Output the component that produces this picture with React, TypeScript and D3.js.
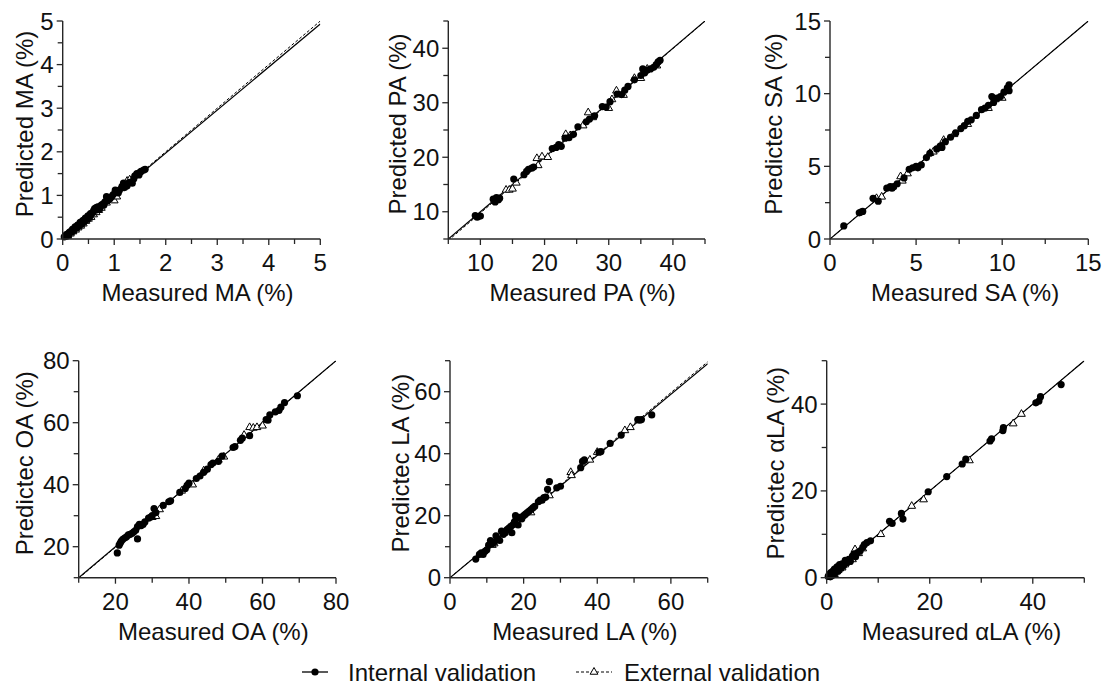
import React from "react";
import * as d3 from "d3";

type Pt = [number, number];

// ---------- data ----------
const maInternal: Pt[] = [
  [0.03, 0.05], [0.05, 0.06], [0.07, 0.1], [0.08, 0.07], [0.1, 0.12], [0.12, 0.1], [0.13, 0.15], [0.15, 0.17],
  [0.18, 0.16], [0.19, 0.22], [0.2, 0.22], [0.22, 0.2], [0.24, 0.28], [0.25, 0.27], [0.28, 0.26], [0.29, 0.32],
  [0.3, 0.32], [0.33, 0.31], [0.34, 0.38], [0.35, 0.37], [0.38, 0.35], [0.39, 0.42], [0.4, 0.42], [0.42, 0.4],
  [0.44, 0.48], [0.45, 0.47], [0.48, 0.45], [0.49, 0.53], [0.5, 0.52], [0.52, 0.5], [0.54, 0.58], [0.55, 0.57],
  [0.58, 0.6], [0.6, 0.65], [0.62, 0.7], [0.64, 0.66], [0.65, 0.72], [0.68, 0.74], [0.7, 0.68], [0.72, 0.7],
  [0.73, 0.75], [0.75, 0.78], [0.78, 0.8], [0.8, 0.78], [0.82, 0.85], [0.85, 0.97], [0.86, 0.88], [0.88, 0.9],
  [0.92, 0.93], [0.95, 0.97], [0.98, 1.02], [1.02, 1.12], [1.05, 1.08], [1.08, 1.06], [1.1, 1.12], [1.15, 1.2],
  [1.18, 1.28], [1.2, 1.18], [1.22, 1.25], [1.25, 1.22], [1.3, 1.3], [1.35, 1.28], [1.38, 1.38], [1.4, 1.45],
  [1.44, 1.5], [1.48, 1.47], [1.5, 1.53], [1.52, 1.55], [1.57, 1.58], [1.6, 1.6],
];
const maExternal: Pt[] = [
  [0.1, 0.07], [0.15, 0.12], [0.2, 0.17], [0.25, 0.21], [0.3, 0.26], [0.35, 0.3], [0.4, 0.35], [0.45, 0.41],
  [0.5, 0.46], [0.55, 0.5], [0.6, 0.56], [0.65, 0.61], [0.7, 0.66], [0.75, 0.71], [0.85, 0.83], [0.95, 0.9],
  [1.0, 0.88], [1.05, 0.97], [1.12, 1.16], [1.25, 1.33], [1.3, 1.36],
];
const paInternal: Pt[] = [
  [9.2, 9.3], [9.5, 9.0], [10, 9.2], [12, 12.3], [12.3, 11.8], [12.5, 12.6], [12.8, 12.2], [13, 12.5],
  [15.2, 16], [16.8, 16.8], [17.2, 17.4], [17.5, 17.8], [18, 18], [18.3, 18.2], [21.2, 21.6], [21.8, 21.8],
  [22.2, 22.3], [22.6, 22.0], [23.2, 23.5], [23.8, 23.6], [24.5, 24.2], [25.2, 25.6], [26.5, 26.5], [27, 27],
  [27.8, 27.6], [29, 29.3], [29.6, 29.2], [30.2, 30.2], [31.3, 31.6], [32, 31.5], [32.5, 32.3], [33, 33],
  [34, 34.2], [35, 35], [35.3, 36.2], [35.6, 35.5], [36, 36], [36.5, 36.2], [37, 36.5], [37.4, 37], [37.7, 37.5], [38, 37.8],
];
const paExternal: Pt[] = [
  [14, 14], [14.5, 14], [15, 14.2], [15.6, 15.3], [18.8, 19.8], [19, 18.5], [19.6, 20.1], [20.5, 20.0],
  [23.3, 24.2], [24, 24], [26, 25.8], [26.8, 28.2], [27.5, 27.3], [30, 29], [30.5, 30.6], [31.2, 32.2],
  [32.3, 31.4], [34, 34.5], [35, 34.5], [36, 36.2], [37.5, 36.8],
];
const saInternal: Pt[] = [
  [0.8, 0.9], [1.7, 1.8], [1.8, 1.85], [1.9, 1.9], [2.5, 2.8], [2.8, 2.6], [3.3, 3.5], [3.5, 3.6], [3.6, 3.5],
  [3.7, 3.6], [3.9, 3.8], [4.3, 4.2], [4.6, 4.8], [4.8, 4.9], [5, 5], [5.1, 4.9], [5.3, 5.1], [5.6, 5.6],
  [5.8, 5.9], [6.2, 6.2], [6.4, 6.4], [6.5, 6.3], [6.7, 6.7], [7, 7], [7.3, 7.3], [7.6, 7.6], [7.8, 7.8],
  [8, 8.1], [8.2, 8.2], [8.5, 8.5], [8.8, 8.9], [9, 9], [9.2, 9.2], [9.4, 9.8], [9.5, 9.4], [9.7, 9.7],
  [9.9, 9.8], [10.1, 10.1], [10.3, 10.4], [10.4, 10.6], [10.4, 10.2],
];
const saExternal: Pt[] = [
  [2.7, 2.8], [3.0, 2.9], [4.1, 4.3], [4.2, 4.0], [4.5, 4.5], [5.8, 5.9], [6.0, 6.0], [6.6, 6.8],
  [7.2, 7.2], [8.0, 7.9], [9.2, 9.0], [9.6, 9.6], [10.0, 9.7],
];
const oaInternal: Pt[] = [
  [20.5, 18], [21, 20.5], [21.3, 21.2], [21.6, 21.8], [22, 22.4], [22.5, 22.8], [23, 23.2], [23.5, 23.8],
  [24, 24], [24.5, 24.3], [25, 24.8], [25.5, 25.3], [26, 22.5], [26, 26.5], [26.5, 27.2], [27, 26.8],
  [27.5, 27.2], [28, 28], [29, 29.2], [29.5, 29.5], [30, 30], [30.5, 32.3], [31, 31], [33, 33.3], [34.5, 34.5],
  [35, 34.8], [37.5, 37.5], [39, 38.8], [39.5, 39.8], [40, 40.5], [42, 42], [43, 42.8], [44, 44], [45, 45],
  [46, 46.5], [46.5, 47], [48, 47.5], [49, 49.2], [52, 52], [52.5, 52.3], [54, 54.3], [54.5, 55], [56.5, 55.8],
  [61, 61], [61.5, 60.8], [62, 62.5], [63.5, 63.5], [64.5, 64], [65, 65], [66, 66.5], [69.5, 68.7],
];
const oaExternal: Pt[] = [
  [30, 29.5], [31, 29.8], [32, 32], [38, 38], [41, 40], [44, 44.5], [48, 48], [49.5, 49], [55, 56],
  [56.5, 58.5], [57.5, 58.3], [58.5, 58.5], [60, 59],
];
const laInternal: Pt[] = [
  [7, 6], [8, 7.5], [8.5, 8], [9, 7.5], [9.5, 8.5], [10, 9], [10.5, 10.5], [11, 12], [11.5, 11], [12, 11.5],
  [12.5, 13.5], [13, 12.5], [13.5, 12], [14, 15], [14.5, 14], [15, 14.5], [15.5, 15.5], [16, 16], [16.5, 16.5],
  [16.8, 14.5], [17, 17], [17.5, 18], [17.8, 20], [18, 19], [18.5, 17], [19, 19.5], [19.5, 19], [20, 20],
  [20.5, 20.5], [21, 21], [21.5, 21.5], [22, 22], [22.5, 22.5], [23, 23], [24, 24.5], [24.5, 25], [25, 25],
  [25.5, 25.8], [26, 26], [26.5, 28.5], [27, 31], [29, 29], [30, 29.5], [35.5, 35.5], [36, 37.5], [36.5, 38],
  [40.5, 40.5], [41, 40.7], [43.5, 43.3], [46.5, 46], [51, 51], [51.5, 50.8], [52, 51], [54.8, 52.5],
];
const laExternal: Pt[] = [
  [11.5, 10.5], [12, 11], [13, 12.5], [18, 18.5], [22, 21], [27, 26.5], [32.8, 34], [33, 33], [38, 38],
  [40, 40.5], [47.5, 47.5], [49, 48.5],
];
const alaInternal: Pt[] = [
  [0.3, 0.3], [0.5, 0.8], [0.7, 0.2], [0.8, 1.2], [1.0, 0.5], [1.2, 1.5], [1.3, 0.8], [1.5, 2], [1.7, 1.2],
  [2, 2.5], [2.2, 1.5], [2.5, 3], [2.8, 2.2], [3, 3.2], [3.3, 2.8], [3.6, 4], [4, 3.5], [4.3, 4.2], [4.6, 3.8],
  [5, 5], [5.3, 5.5], [5.6, 4.8], [6, 5.8], [6.5, 6.2], [7, 7], [7.3, 7.6], [7.8, 8.1], [8.5, 8.5],
  [12.2, 13], [12.7, 12.5], [14.5, 14.8], [14.8, 13.5], [19.7, 19.8], [23.3, 23.3], [26.3, 26.2], [27, 27.3],
  [31.7, 31.5], [32, 32], [34.2, 33.9], [34.3, 34.6], [40.6, 40.3], [41.2, 40.7], [41.5, 41.7], [45.5, 44.5],
];
const alaExternal: Pt[] = [
  [0.8, 0.5], [1.5, 0.8], [2.2, 1.7], [3, 2.3], [3.5, 3], [4.2, 3.6], [5, 4.2], [5.5, 6.5], [6.2, 5.6],
  [7, 6.7], [10.5, 10], [16.5, 16.5], [18.8, 18], [27.7, 27], [36.2, 35.5], [37.8, 37.7],
];

// fitted lines: [slope, intercept]
const internalFits: Pt[] = [[0.986, 0.0], [1.0, 0.0], [1.0, 0.0], [1.0, 0.0], [0.986, 0.0], [1.0, 0.0]];
const externalFits: Pt[] = [[1.0, 0.0], [1.006, -0.3], [1.0, 0.0], [1.002, -0.2], [0.995, 0.0], [1.0, 0.0]];

const xTitles = ["Measured MA (%)", "Measured PA (%)", "Measured SA (%)", "Measured OA (%)", "Measured LA (%)", "Measured \u03b1LA (%)"];
const yTitles = ["Predicted MA (%)", "Predicted PA (%)", "Predictec SA (%)", "Predictec OA (%)", "Predictec LA (%)", "Predictec \u03b1LA (%)"];
const domains: Pt[] = [[0, 5], [5, 45], [0, 15], [10, 80], [0, 70], [0, 50]];
const majorTicks: number[][] = [[0, 1, 2, 3, 4, 5], [10, 20, 30, 40], [0, 5, 10, 15], [20, 40, 60, 80], [0, 20, 40, 60], [0, 20, 40]];
const minorSteps = [0.5, 5, 2.5, 10, 10, 10];
const legendLabels = ["Internal validation", "External validation"];

// ---------- layout ----------
const FONT = "'Liberation Sans', Arial, Helvetica, sans-serif";
const layouts = [
  { left: 62.7, top: 21, w: 257.6, h: 218, yTitleOff: 30 },
  { left: 448.3, top: 21, w: 256.7, h: 218, yTitleOff: 42 },
  { left: 830, top: 21, w: 258.3, h: 218, yTitleOff: 48 },
  { left: 78.7, top: 360.7, w: 257.3, h: 217, yTitleOff: 46 },
  { left: 450, top: 360.7, w: 257.7, h: 217, yTitleOff: 41 },
  { left: 826.7, top: 360.7, w: 257.6, h: 217, yTitleOff: 43 },
];
const internalSets = [maInternal, paInternal, saInternal, oaInternal, laInternal, alaInternal];
const externalSets = [maExternal, paExternal, saExternal, oaExternal, laExternal, alaExternal];

const AXIS = "#262626";
const tri = d3.symbol().type(d3.symbolTriangle).size(26)() as string;

function Panel({ i }: { i: number }) {
  const L = layouts[i];
  const dom = domains[i];
  const x = d3.scaleLinear().domain(dom).range([L.left, L.left + L.w]);
  const y = d3.scaleLinear().domain(dom).range([L.top + L.h, L.top]);
  const step = minorSteps[i];
  const allTicks = d3.range(dom[0], dom[1] + step / 2, step);
  const majors = majorTicks[i];
  const isMajor = (v: number) => majors.some((m) => Math.abs(m - v) < 1e-9);
  const bottom = L.top + L.h;
  const fitLine = (f: Pt) =>
    d3.line<number>().x((v) => x(v)).y((v) => y(f[0] * v + f[1]))([dom[0], dom[1]]) as string;
  const clipId = `clip${i}`;
  return (
    <g>
      <defs>
        <clipPath id={clipId}>
          <rect x={L.left} y={L.top} width={L.w} height={L.h} />
        </clipPath>
      </defs>
      <g clipPath={`url(#${clipId})`}>
        <path d={fitLine(externalFits[i])} fill="none" stroke="#000" strokeWidth={1} strokeDasharray="3,2" />
        <path d={fitLine(internalFits[i])} fill="none" stroke="#000" strokeWidth={1.2} />
      </g>
      {externalSets[i].map((d, k) => (
        <path key={`e${k}`} d={tri} transform={`translate(${x(d[0])},${y(d[1])})`} fill="#fff" stroke="#000" strokeWidth={1} />
      ))}
      {internalSets[i].map((d, k) => (
        <circle key={`i${k}`} cx={x(d[0])} cy={y(d[1])} r={3.6} fill="#000" />
      ))}
      {/* axes */}
      <line x1={L.left} x2={L.left + L.w} y1={bottom} y2={bottom} stroke={AXIS} strokeWidth={1.4} />
      <line x1={L.left} x2={L.left} y1={L.top} y2={bottom} stroke={AXIS} strokeWidth={1.4} />
      {allTicks.map((v) => (
        <g key={`xt${v}`}>
          <line x1={x(v)} x2={x(v)} y1={bottom} y2={bottom + (isMajor(v) ? 6 : 5)} stroke={AXIS} strokeWidth={1.3} />
          <line x1={L.left} x2={L.left - (isMajor(v) ? 6 : 5)} y1={y(v)} y2={y(v)} stroke={AXIS} strokeWidth={1.3} />
        </g>
      ))}
      {majors.map((v) => (
        <g key={`lab${v}`} fontFamily={FONT} fontSize={24} fill="#111">
          <text x={x(v)} y={bottom + 32} textAnchor="middle">{v}</text>
          <text x={L.left - 9} y={y(v) + 8.5} textAnchor="end">{v}</text>
        </g>
      ))}
      <text x={L.left + L.w / 2 + 6} y={bottom + 62} textAnchor="middle" fontFamily={FONT} fontSize={24} fill="#111">
        {xTitles[i]}
      </text>
      <text
        transform={`translate(${L.left - L.yTitleOff},${L.top + L.h / 2 - 6}) rotate(-90)`}
        textAnchor="middle"
        fontFamily={FONT}
        fontSize={24}
        fill="#111"
      >
        {yTitles[i]}
      </text>
    </g>
  );
}

export default function App() {
  const ly = 672;
  return (
    <svg width={1105} height={694} style={{ position: "absolute", left: 0, top: 0, background: "#fff" }}>
      <rect width={1105} height={694} fill="#fff" />
      {layouts.map((_, i) => (
        <Panel key={i} i={i} />
      ))}
      <g fontFamily={FONT} fontSize={24} fill="#111">
        <line x1={302} x2={328} y1={ly} y2={ly} stroke="#000" strokeWidth={1.3} />
        <circle cx={315} cy={ly} r={3.6} fill="#000" />
        <text x={348} y={ly + 9}>{legendLabels[0]}</text>
        <line x1={576} x2={612} y1={ly} y2={ly} stroke="#000" strokeWidth={1} strokeDasharray="3,2" />
        <path d={tri} transform={`translate(594,${ly})`} fill="#fff" stroke="#000" strokeWidth={1} />
        <text x={624} y={ly + 9}>{legendLabels[1]}</text>
      </g>
    </svg>
  );
}
